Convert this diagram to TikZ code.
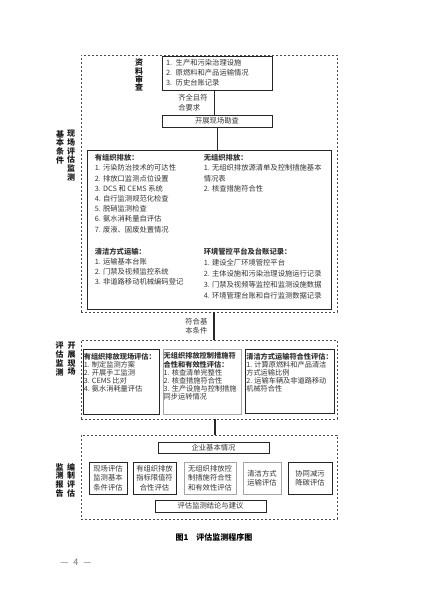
\documentclass[tikz,border=0pt]{standalone}
\usepackage{fontspec}
\setmainfont{Noto Sans CJK SC}
\usetikzlibrary{positioning}

\begin{document}
\begin{tikzpicture}[x=1pt,y=-1pt,
  txt/.style={font=\fontsize{7.3}{10.2}\selectfont,inner sep=0pt,align=left,anchor=north west,text=black!80},
  smalltxt/.style={txt,font=\fontsize{7.2}{8.1}\selectfont},
  celltxt/.style={font=\fontsize{7.3}{9.5}\selectfont,inner sep=0pt,align=center,text=black!80},
  sidelbl/.style={font=\fontsize{8}{8.7}\selectfont\bfseries,inner sep=0pt,align=center,anchor=north,text=black!90},
  frame/.style={draw=black!70,dash pattern=on 2.4pt off 1.6pt,line width=0.7pt,minimum width=256pt,inner sep=0pt},
  blk/.style={draw=black!85,line width=0.8pt,inner sep=0pt},
  gblk/.style={draw=black!35,line width=1pt,inner sep=0pt},
  link/.style={draw=black!85,line width=0.9pt}]
\useasboundingbox (0,0) rectangle (427,604);

% three dashed frames
\node[frame,minimum height=257pt] (kuang1) at (209,183.5) {};
\node[frame,minimum height=79pt] (kuang2) at (209,379.5) {};
\node[frame,minimum height=84pt] (kuang3) at (209,477) {};

% side labels
\node[sidelbl] (lbl1a) at (71,130) {现\\场\\评\\估\\监\\测};
\node[sidelbl] (lbl1b) at (60,130) {基\\本\\条\\件};
\node[sidelbl] (lbl2a) at (71.5,342) {开\\展\\现\\场};
\node[sidelbl] (lbl2b) at (59.5,342) {评\\估\\监\\测};
\node[sidelbl] (lbl3a) at (71,463) {编\\制\\评\\估};
\node[sidelbl] (lbl3b) at (59.5,463) {监\\测\\报\\告};

% document review
\node[sidelbl,font=\fontsize{8}{8.2}\selectfont\bfseries] (shencha) at (139,59) {资\\料\\审\\查};
\node[blk,minimum width=110pt,minimum height=34pt,text width=102pt,align=left,
  font=\fontsize{7.3}{10}\selectfont,text=black!80] (ziliao) at (217,73)
  {1. 生产和污染治理设施\\2. 原燃料和产品运输情况\\3. 历史台账记录};
\node[blk,minimum width=110pt,minimum height=12pt,font=\fontsize{7.3}{8}\selectfont,text=black!80] (kancha) at (217,121) {开展现场勘查};
\draw[link] (214,0 |- ziliao.south) -- (214,0 |- kancha.north)
  node[midway,left=6pt,celltxt,align=left]{齐全且符\\合要求};

% basic conditions
\node[blk,minimum width=244pt,minimum height=159pt] (jiben) at (209,229.5) {};
\draw[link] (kancha.south) -- (kancha.south |- jiben.north);
\node[txt,below right=4.7pt and 8pt of jiben.north west] (youzuzhi)
  {\textbf{有组织排放：}\\1. 污染防治技术的可达性\\2. 排放口监测点位设置\\3. DCS 和 CEMS 系统\\4. 自行监测规范化检查\\5. 脱硝监测检查\\6. 氨水消耗量自评估\\7. 废液、固废处置情况};
\node[txt,below right=4.7pt and 117pt of jiben.north west] (wuzuzhi)
  {\textbf{无组织排放：}\\1. 无组织排放源清单及控制措施基本\\情况表\\2. 核查措施符合性};
\node[txt,below right=98pt and 8pt of jiben.north west] (qingjie)
  {\textbf{清洁方式运输：}\\1. 运输基本台账\\2. 门禁及视频监控系统\\3. 非道路移动机械编码登记};
\node[txt,below right=98pt and 117pt of jiben.north west,font=\fontsize{7.3}{11}\selectfont] (pingtai)
  {\textbf{环境管控平台及台账记录：}\\1. 建设全厂环境管控平台\\2. 主体设施和污染治理设施运行记录\\3. 门禁及视频等监控和监测设施数据\\4. 环境管理台账和自行监测数据记录};

\draw[link,line width=1.4pt] (214,0 |- kuang1.south) -- (214,0 |- kuang2.north)
  node[midway,left=6pt,celltxt,align=left]{符合基\\本条件};

% on-site evaluation
\node[blk,minimum width=76pt,minimum height=65pt] (xianchang) at (121,381.5) {};
\node[gblk,minimum width=78pt,minimum height=65pt] (wukongzhi) at (202,381.5) {};
\node[blk,minimum width=89pt,minimum height=64pt] (yunshu) at (289.5,381) {};
\node[smalltxt,below right=4pt and 1pt of xianchang.north west] (xianchangtxt)
  {\textbf{有组织排放现场评估：}\\1. 制定监测方案\\2. 开展手工监测\\3. CEMS 比对\\4. 氨水消耗量评估};
\node[smalltxt,below right=4pt and 1pt of wukongzhi.north west] (wukongzhitxt)
  {\textbf{无组织排放控制措施符}\\\textbf{合性和有效性评估：}\\1. 核查清单完整性\\2. 核查措施符合性\\3. 生产设施与控制措施\\同步运转情况};
\node[smalltxt,below right=4pt and 1.5pt of yunshu.north west] (yunshutxt)
  {\textbf{清洁方式运输符合性评估：}\\1. 计算原燃料和产品清洁\\方式运输比例\\2. 运输车辆及非道路移动\\机械符合性};

\draw[link,line width=1.4pt] (215,0 |- kuang2.south) -- (215,0 |- kuang3.north);

% report
\node[blk,celltxt,minimum width=111pt,minimum height=11pt] (qiye) at (213.5,447.5) {企业基本情况};
\node[blk,celltxt,minimum width=38pt,minimum height=32pt] (pg1) at (108,478) {现场评估\\监测基本\\条件评估};
\node[blk,celltxt,minimum width=43pt,minimum height=32pt] (pg2) at (154.5,478) {有组织排放\\指标限值符\\合性评估};
\node[gblk,celltxt,minimum width=52pt,minimum height=32pt] (pg3) at (210,478) {无组织排放控\\制措施符合性\\和有效性评估};
\node[gblk,celltxt,minimum width=38pt,minimum height=32pt] (pg4) at (262,478) {清洁方式\\运输评估};
\node[blk,celltxt,minimum width=44pt,minimum height=32pt] (pg5) at (310,478) {协同减污\\降碳评估};
\node[blk,celltxt,minimum width=111pt,minimum height=12pt] (jielun) at (210.5,506) {评估监测结论与建议};

\node[font=\fontsize{8}{8}\selectfont\bfseries,inner sep=0pt] (tuming) at (214,537) {图1\quad 评估监测程序图};
\node[font=\fontsize{9}{9}\selectfont,text=black!55,inner sep=0pt] (yema) at (76,562) {—\hspace{5pt}4\hspace{5pt}—};
\end{tikzpicture}
\end{document}
